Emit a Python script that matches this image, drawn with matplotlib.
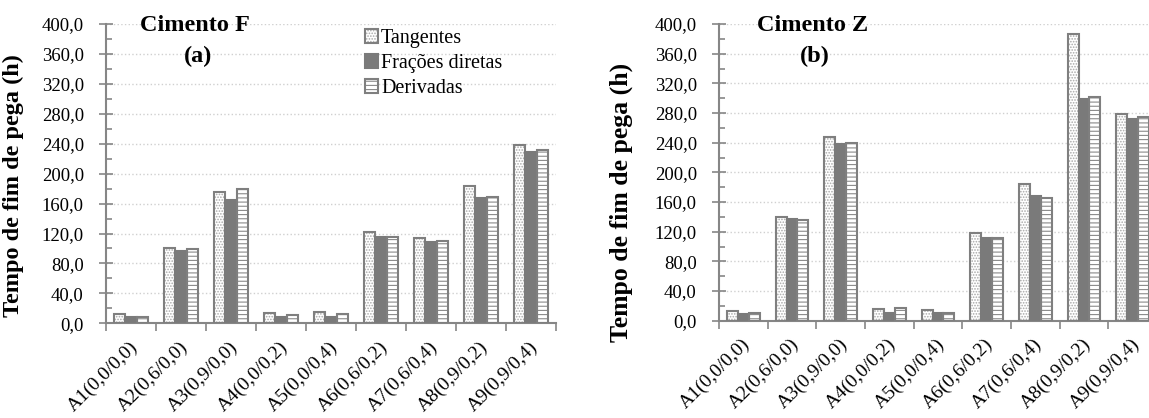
import numpy as np
import matplotlib
matplotlib.use("Agg")
import matplotlib.pyplot as plt
from matplotlib.ticker import MultipleLocator, FuncFormatter, FixedLocator
from matplotlib.legend_handler import HandlerTuple
from matplotlib.transforms import ScaledTranslation

plt.rcParams['font.family'] = ['Liberation Serif', 'DejaVu Serif']
plt.rcParams['hatch.linewidth'] = 0.8

categories = ["A1(0,0/0,0)", "A2(0,6/0,0)", "A3(0,9/0,0)", "A4(0,0/0,2)",
              "A5(0,0/0,4)", "A6(0,6/0,2)", "A7(0,6/0,4)", "A8(0,9/0,2)",
              "A9(0,9/0,4)"]
series_names = ["Tangentes", "Frações diretas", "Derivadas"]

# Cimento F
f_tangentes = [13, 100, 175, 14, 15, 122, 114, 183, 238]
f_fracoes = [9, 97, 165, 9, 9, 115, 109, 168, 229]
f_derivadas = [9, 99, 180, 11, 12, 116, 110, 169, 231]

# Cimento Z
z_tangentes = [13.5, 140, 248, 16, 15, 118, 184, 386, 279]
z_fracoes = [9, 137, 238, 10, 10, 112, 168, 299, 272]
z_derivadas = [10, 136, 240, 17, 11, 111, 165, 302, 274]

W, H = 1149, 418
EDGE = '#7f7f7f'
AXIS = '#868686'
SOLID = '#7a7a7a'

fig = plt.figure(figsize=(W / 100, H / 100), dpi=100)


def px_axes(x0, x1, y_top, y_bottom):
    return fig.add_axes([x0 / W, 1 - y_bottom / H, (x1 - x0) / W, (y_bottom - y_top) / H])


ax1 = px_axes(106, 556, 24, 323.3)
ax2 = px_axes(719, 1157, 24, 320.7)

width = 0.226
x = np.arange(len(categories)) + 0.5
styles = [
    dict(hatch='......', face='white', hatch_col='#a8a8a8'),
    dict(hatch=None, face=SOLID, hatch_col=SOLID),
    dict(hatch='----', face='white', hatch_col='#8a8a8a'),
]


def draw_panel(ax, series):
    handles = []
    for i, (vals, st) in enumerate(zip(series, styles)):
        pos = x + (i - 1) * width
        fill = ax.bar(pos, vals, width, color=st['face'], edgecolor=st['hatch_col'],
                      hatch=st['hatch'], linewidth=0, zorder=2)
        outline = ax.bar(pos, vals, width, fill=False,
                         edgecolor=EDGE if st['hatch'] else SOLID,
                         linewidth=1.5, zorder=3)
        handles.append((fill[0], outline[0]))
    ax.set_xlim(0, len(categories))
    ax.set_ylim(0, 400)
    ax.yaxis.set_major_locator(MultipleLocator(40))
    ax.yaxis.set_minor_locator(MultipleLocator(20))
    ax.yaxis.set_major_formatter(FuncFormatter(lambda v, p: f"{v:.1f}".replace('.', ',')))
    ax.set_xticks(x)
    ax.set_xticklabels(categories)
    ax.xaxis.set_minor_locator(FixedLocator(np.arange(len(categories) + 1)))
    ax.tick_params(axis='x', which='major', length=0, pad=15, labelsize=14)
    ax.tick_params(axis='x', which='minor', length=6, width=1.2, color=AXIS, direction='out')
    ax.tick_params(axis='y', which='major', length=10, width=1.2, color=AXIS,
                   direction='inout', pad=11, labelsize=13.5)
    ax.tick_params(axis='y', which='minor', length=4, width=1.2, color=AXIS, direction='in')
    offset = ScaledTranslation(0.04, 0, fig.dpi_scale_trans)
    for lab in ax.get_xticklabels():
        lab.set_rotation(45)
        lab.set_rotation_mode('anchor')
        lab.set_ha('right')
        lab.set_va('center')
        lab.set_transform(lab.get_transform() + offset)
    for s in ('top', 'right'):
        ax.spines[s].set_visible(False)
    for s in ('left', 'bottom'):
        ax.spines[s].set_color(AXIS)
        ax.spines[s].set_linewidth(1.5)
    ax.grid(axis='y', which='major', color='#d0d0d0', linestyle=':', linewidth=1, zorder=0)
    ax.set_axisbelow(True)
    return handles


handles = draw_panel(ax1, [f_tangentes, f_fracoes, f_derivadas])
draw_panel(ax2, [z_tangentes, z_fracoes, z_derivadas])

ax1.set_ylabel("Tempo de fim de pega (h)", fontsize=17.5, fontweight='bold')
ax1.yaxis.set_label_coords(-0.182, 0.459)
ax2.set_ylabel("Tempo de fim de pega (h)", fontsize=18.5, fontweight='bold')
ax2.yaxis.set_label_coords(-0.196, 0.397)


def px_text(xp, yp, s, **kw):
    fig.text(xp / W, 1 - yp / H, s, ha='center', va='baseline', fontweight='bold',
             fontsize=17.5, **kw)


px_text(195, 31, "Cimento F")
px_text(198, 62, "(a)")
px_text(813, 31, "Cimento Z")
px_text(815, 62, "(b)")

fig.legend(handles, series_names, loc='upper left', bbox_to_anchor=(365 / W, 1 - 29 / H),
           frameon=False, fontsize=14.5, handlelength=0.65, handleheight=0.65,
           handletextpad=0.15, labelspacing=0.3, borderpad=0, borderaxespad=0,
           handler_map={tuple: HandlerTuple(ndivide=1, pad=0)})

fig.savefig("out.png", dpi=100)
